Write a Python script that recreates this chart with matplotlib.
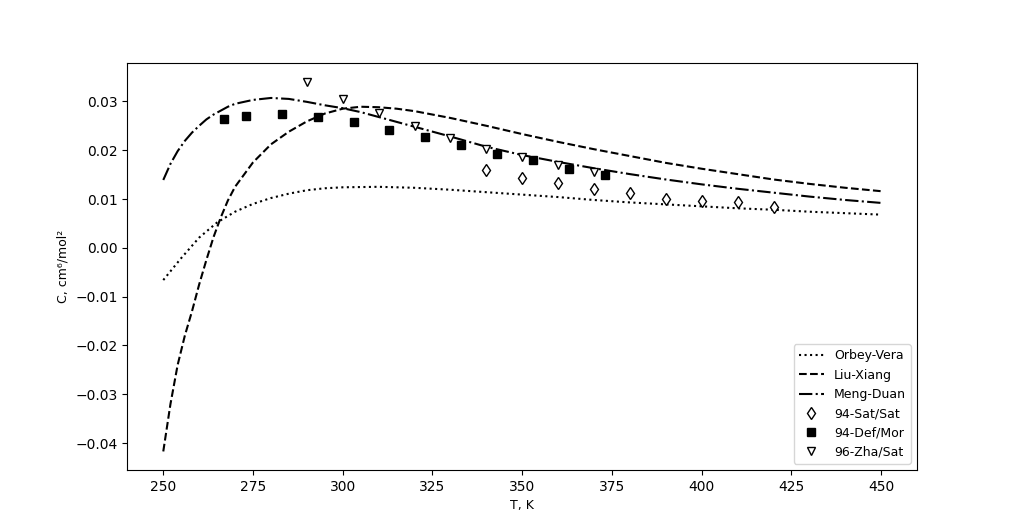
#!/usr/bin/env python3
"""Third virial coefficient C(T): model curves vs. experimental points."""

import matplotlib

matplotlib.use("Agg")
import matplotlib.pyplot as plt

# model curves
T_OV = [250, 255, 260, 265, 270, 275, 280, 285, 290, 295, 300, 310, 320, 330,
        340, 350, 360, 370, 380, 390, 400, 410, 420, 430, 440, 450]
C_OV = [-0.0066, -0.0021, 0.0021, 0.0052, 0.0074, 0.0090, 0.0102, 0.0111,
        0.0118, 0.0122, 0.0124, 0.0125, 0.0123, 0.0119, 0.0114, 0.0109,
        0.0104, 0.0098, 0.0093, 0.0089, 0.0085, 0.0081, 0.0078, 0.0074,
        0.0071, 0.0068]

T_LX = [250, 252, 254, 256, 258, 260, 262, 264, 266, 268, 270, 275, 280, 285,
        290, 295, 300, 305, 310, 315, 320, 330, 340, 350, 360, 370, 380, 390,
        400, 410, 420, 430, 440, 450]
C_LX = [-0.0417, -0.0320, -0.0240, -0.0180, -0.0130, -0.0075, -0.0025, 0.0022,
        0.0062, 0.0097, 0.0125, 0.0175, 0.0212, 0.0238, 0.0259, 0.0275, 0.0285,
        0.0289, 0.0288, 0.0285, 0.0280, 0.0266, 0.0250, 0.0233, 0.0217, 0.0202,
        0.0188, 0.0174, 0.0162, 0.0151, 0.0140, 0.0131, 0.0123, 0.0116]

T_MD = [250, 252, 254, 256, 258, 260, 262, 264, 266, 268, 270, 275, 280, 285,
        290, 295, 300, 305, 310, 315, 320, 330, 340, 350, 360, 370, 380, 390,
        400, 410, 420, 430, 440, 450]
C_MD = [0.0139, 0.0172, 0.0198, 0.0219, 0.0236, 0.0250, 0.0263, 0.0273,
        0.0281, 0.0289, 0.0295, 0.0303, 0.0307, 0.0305, 0.0299, 0.0292, 0.0286,
        0.0278, 0.0268, 0.0258, 0.0248, 0.0228, 0.0207, 0.0190, 0.0176, 0.0163,
        0.0151, 0.0140, 0.0130, 0.0121, 0.0113, 0.0105, 0.0098, 0.0092]

# experimental data
T_SAT = [340, 350, 360, 370, 380, 390, 400, 410, 420]
C_SAT = [0.0160, 0.0143, 0.0133, 0.0121, 0.0112, 0.0101, 0.0096, 0.0094, 0.0083]

T_DEF = [267, 273, 283, 293, 303, 313, 323, 333, 343, 353, 363, 373]
C_DEF = [0.0263, 0.0271, 0.0275, 0.0269, 0.0257, 0.0242, 0.0226, 0.0210,
         0.0193, 0.0179, 0.0162, 0.0150]

T_ZHA = [290, 300, 310, 320, 330, 340, 350, 360, 370]
C_ZHA = [0.0340, 0.0305, 0.0277, 0.0249, 0.0224, 0.0203, 0.0186, 0.0169, 0.0156]


fig, ax = plt.subplots(figsize=(10.19, 5.28), dpi=100)

ax.plot(T_OV, C_OV, color="black", linestyle=":", label="Orbey-Vera")
ax.plot(T_LX, C_LX, color="black", linestyle="--", label="Liu-Xiang")
ax.plot(T_MD, C_MD, color="black", linestyle="-.", label="Meng-Duan")
ax.plot(T_SAT, C_SAT, linestyle="none", marker="d", markerfacecolor="white",
        markeredgecolor="black", label="94-Sat/Sat")
ax.plot(T_DEF, C_DEF, linestyle="none", marker="s", color="black",
        label="94-Def/Mor")
ax.plot(T_ZHA, C_ZHA, linestyle="none", marker="v", markerfacecolor="white",
        markeredgecolor="black", label="96-Zha/Sat")

ax.set_xlabel("T, K", fontsize=9)
ax.set_ylabel("C, cm⁶/mol²", fontsize=9)
ax.legend(loc="lower right", fontsize=9)

fig.savefig("out.png", dpi=100)
